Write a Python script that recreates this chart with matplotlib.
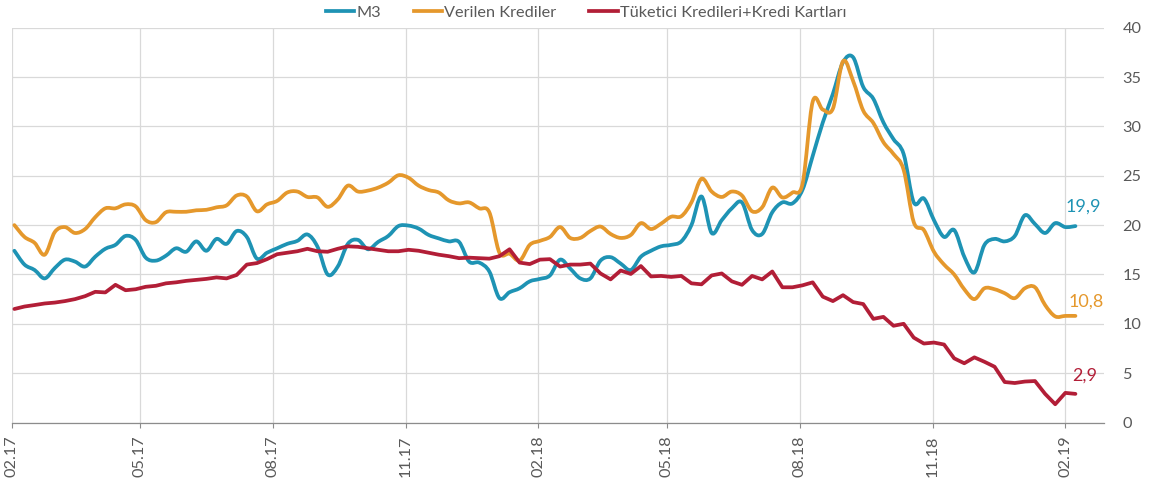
import matplotlib
matplotlib.use("Agg")
import matplotlib.pyplot as plt
import matplotlib.dates as mdates
from matplotlib.path import Path
from matplotlib.patches import PathPatch
from matplotlib.lines import Line2D
import pandas as pd
import numpy as np

# ---------------- data ----------------
start_date = "2017-02-03"
n_weeks = 106

m3 = [17.4, 16.0, 15.45, 14.6, 15.65, 16.5, 16.3, 15.8, 16.8, 17.6,
      18.0, 18.9, 18.5, 16.7, 16.4, 16.9, 17.65, 17.3, 18.35, 17.4,
      18.6, 18.1, 19.4, 18.8, 16.6, 17.2, 17.65, 18.1, 18.4, 19.05,
      17.8, 15.0, 15.8, 18.1, 18.5, 17.55, 18.3, 18.9, 19.9, 19.95,
      19.65, 19.0, 18.65, 18.35, 18.3, 16.3, 16.2, 15.3, 12.6, 13.2,
      13.6, 14.3, 14.55, 14.9, 16.5, 15.6, 14.6, 14.6, 16.4, 16.75,
      16.1, 15.45, 16.8, 17.4, 17.85, 18.0, 18.35, 20.0, 22.9, 19.2,
      20.5, 21.7, 22.3, 19.5, 19.1, 21.3, 22.3, 22.2, 23.6, 27.0,
      30.4, 33.3, 36.5, 37.0, 34.0, 32.8, 30.4, 28.7, 27.2, 22.3,
      22.7, 20.5, 18.8, 19.5, 16.8, 15.2, 18.0, 18.6, 18.35, 18.9,
      21.0, 20.1, 19.2, 20.2, 19.8, 19.9]

verilen = [20.0, 18.8, 18.2, 17.0, 19.3, 19.8, 19.2, 19.6, 20.8, 21.7,
           21.7, 22.1, 21.9, 20.5, 20.3, 21.3, 21.35, 21.35, 21.5, 21.55,
           21.8, 22.0, 23.0, 22.9, 21.4, 22.1, 22.45, 23.3, 23.4, 22.85,
           22.8, 21.85, 22.6, 24.0, 23.4, 23.5, 23.8, 24.3, 25.05, 24.8,
           24.0, 23.55, 23.3, 22.5, 22.2, 22.3, 21.7, 21.3, 17.2, 17.1,
           16.4, 18.0, 18.4, 18.8, 19.8, 18.7, 18.7, 19.4, 19.85, 19.1,
           18.7, 19.0, 20.2, 19.6, 20.15, 20.85, 20.9, 22.3, 24.7, 23.4,
           22.85, 23.4, 23.0, 21.4, 21.8, 23.8, 22.8, 23.3, 24.2, 32.5,
           31.7, 31.8, 36.6, 34.6, 31.6, 30.35, 28.4, 27.2, 25.6, 20.3,
           19.5, 17.3, 16.0, 15.0, 13.5, 12.5, 13.6, 13.5, 13.1, 12.6,
           13.6, 13.7, 11.9, 10.75, 10.8, 10.8]

tuketici = [11.5, 11.75, 11.9, 12.06, 12.15, 12.3, 12.5, 12.8, 13.24, 13.18,
            13.95, 13.4, 13.5, 13.75, 13.85, 14.1, 14.2, 14.35, 14.45, 14.55,
            14.7, 14.6, 14.95, 16.0, 16.15, 16.55, 17.05, 17.2, 17.35, 17.6,
            17.35, 17.3, 17.6, 17.85, 17.8, 17.65, 17.5, 17.35, 17.35, 17.5,
            17.4, 17.2, 17.0, 16.85, 16.65, 16.7, 16.65, 16.6, 16.85, 17.55,
            16.2, 16.05, 16.5, 16.55, 15.8, 16.0, 16.0, 16.1, 15.1, 14.5,
            15.4, 15.05, 15.85, 14.8, 14.85, 14.75, 14.85, 14.1, 14.0, 14.9,
            15.1, 14.3, 13.95, 14.85, 14.5, 15.3, 13.7, 13.7, 13.9, 14.2,
            12.75, 12.3, 12.9, 12.2, 12.0, 10.5, 10.7, 9.8, 10.0, 8.6,
            8.0, 8.1, 7.9, 6.5, 6.0, 6.6, 6.15, 5.65, 4.1, 4.0,
            4.15, 4.2, 2.9, 1.85, 3.0, 2.9]

series_names = ["M3", "Verilen Krediler", "Tüketici Kredileri+Kredi Kartları"]
end_labels = ["19,9", "10,8", "2,9"]

tick_dates = ["2017-02-01", "2017-05-01", "2017-08-01", "2017-11-01",
              "2018-02-01", "2018-05-01", "2018-08-01", "2018-11-01",
              "2019-02-01"]
tick_labels = ["02.17", "05.17", "08.17", "11.17", "02.18", "05.18",
               "08.18", "11.18", "02.19"]
y_ticks = [0, 5, 10, 15, 20, 25, 30, 35, 40]

# ---------------- style ----------------
colors = ["#1E93B4", "#E5982C", "#B21E37"]
smoothed = [True, True, False]
label_offsets = [(6, 14), (8, 10), (7, 13.5)]
text_gray = "#595959"
grid_gray = "#D9D9D9"
axis_gray = "#8C8C8C"
LW = 2.7
plt.rcParams["font.family"] = ["Lato", "DejaVu Sans"]

dates = pd.date_range(start=start_date, periods=n_weeks, freq="7D")
xnum = mdates.date2num(dates.to_pydatetime())

W, H = 1151, 490
fig = plt.figure(figsize=(W / 100, H / 100), dpi=100)
left_px, right_px, top_px, bottom_px = 11.5, 1104.3, 27.7, 422.5
ax = fig.add_axes([left_px / W, (H - bottom_px) / H,
                   (right_px - left_px) / W, (bottom_px - top_px) / H])


def smooth_path(x, y):
    """Bezier path through the data points (Excel-style smoothed line)."""
    p = np.column_stack([x, y])
    ext = np.vstack([p[0], p, p[-1]])
    verts = [p[0]]
    codes = [Path.MOVETO]
    for i in range(len(p) - 1):
        p0, p1, p2, p3 = ext[i], ext[i + 1], ext[i + 2], ext[i + 3]
        c1 = p1 + (p2 - p0) / 6.0
        c2 = p2 - (p3 - p1) / 6.0
        verts += [c1, c2, p2]
        codes += [Path.CURVE4] * 3
    return Path(np.array(verts), codes)


handles = []
for vals, c, name, sm in zip([m3, verilen, tuketici], colors, series_names, smoothed):
    if sm:
        patch = PathPatch(smooth_path(xnum, np.asarray(vals, float)),
                          facecolor="none", edgecolor=c, lw=LW,
                          joinstyle="round", capstyle="round", zorder=3)
        ax.add_patch(patch)
    else:
        ax.plot(dates, vals, color=c, lw=LW, solid_joinstyle="round",
                solid_capstyle="round", zorder=3)
    handles.append(Line2D([], [], color=c, lw=LW, label=name))

for vals, c, lab, off in zip([m3, verilen, tuketici], colors, end_labels, label_offsets):
    ax.annotate(lab, xy=(dates[-1], vals[-1]), xytext=off,
                textcoords="offset points", ha="center", va="center",
                color=c, fontsize=13, zorder=4)

ax.set_ylim(0, 40)
ax.set_xlim(pd.Timestamp("2017-02-01"), pd.Timestamp("2019-02-28"))

ax.set_yticks(y_ticks)
ax.yaxis.tick_right()
ax.tick_params(axis="y", length=0, pad=13, labelsize=11.7, labelcolor=text_gray)

tick_pos = [pd.Timestamp(d) for d in tick_dates]
ax.set_xticks(tick_pos)
ax.set_xticklabels(tick_labels, rotation=90)
ax.tick_params(axis="x", length=3.6, width=0.8, color=axis_gray, pad=5.5,
               labelsize=11.7, labelcolor=text_gray)

ax.grid(True, color=grid_gray, lw=0.9, zorder=0)
for s in ["top", "right", "left"]:
    ax.spines[s].set_visible(False)
ax.spines["bottom"].set_color(axis_gray)
ax.spines["bottom"].set_linewidth(0.9)
ax.set_axisbelow(True)

leg = fig.legend(handles=handles, loc="center", ncol=3,
                 bbox_to_anchor=(586 / W, 1 - 13 / H), frameon=False,
                 fontsize=11.7, handlelength=1.75, handletextpad=0.15,
                 columnspacing=2.0, labelcolor=text_gray)

fig.savefig("out.png", dpi=100)
